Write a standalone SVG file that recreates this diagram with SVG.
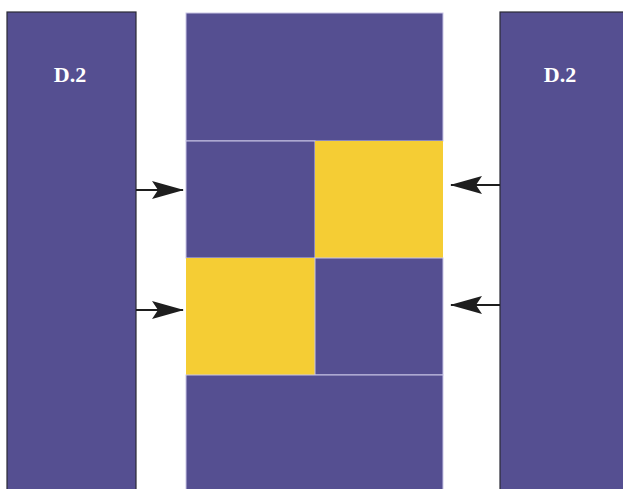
<svg xmlns="http://www.w3.org/2000/svg" width="623" height="489" viewBox="0 0 623 489">
<defs>
<style>
.side{fill:#554F91;stroke:#2a2a35;stroke-width:1.2}
.blk{fill:#554F91;stroke:#c9c6e6;stroke-width:1}
.yel{fill:#F5CD34;stroke:none}
.lbl{font-family:"Liberation Serif","DejaVu Serif",serif;font-weight:bold;font-size:22px;fill:#ffffff;text-anchor:middle}
.conn{stroke:#1e1e1e;stroke-width:2.2;fill:none}
</style>
<marker id="ah" viewBox="0 0 32 18" refX="31" refY="9" markerWidth="32" markerHeight="18" markerUnits="userSpaceOnUse" orient="auto">
<path d="M0,0 L32,9 L0,18 L6,9 Z" fill="#1e1e1e"/>
</marker>
</defs>
<g id="left-d2">
<rect class="side" x="7" y="12" width="129" height="480"/>
<text class="lbl" x="70" y="82">D.2</text>
</g>
<g id="right-d2">
<rect class="side" x="500" y="12" width="130" height="480"/>
<text class="lbl" x="560" y="82">D.2</text>
</g>
<g id="center">
<rect id="top-block" class="blk" x="186" y="13" width="257" height="128"/>
<rect id="cell-tl" class="blk" x="186" y="141" width="129" height="117"/>
<rect id="cell-tr" class="yel" x="315" y="141" width="128" height="117"/>
<rect id="cell-bl" class="yel" x="186" y="258" width="129" height="117"/>
<rect id="cell-br" class="blk" x="315" y="258" width="128" height="117"/>
<rect id="bottom-block" class="blk" x="186" y="375" width="257" height="120"/>
</g>
<g id="connectors">
<line class="conn" x1="136" y1="190" x2="183" y2="190" marker-end="url(#ah)"/>
<line class="conn" x1="136" y1="310" x2="183" y2="310" marker-end="url(#ah)"/>
<line class="conn" x1="500" y1="185" x2="451" y2="185" marker-end="url(#ah)"/>
<line class="conn" x1="500" y1="305" x2="451" y2="305" marker-end="url(#ah)"/>
</g>
</svg>
